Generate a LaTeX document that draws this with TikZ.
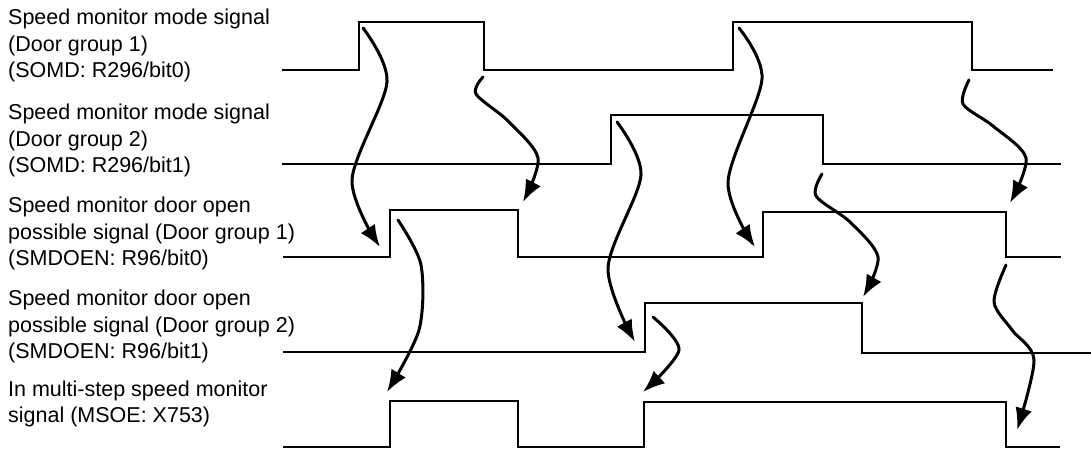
\documentclass[tikz,border=0pt]{standalone}
\usepackage{fontspec}
\setmainfont{Liberation Sans}
\usetikzlibrary{arrows.meta,calc}

\tikzset{
  sig/.style={line width=2.1pt},
  cause/.style={line width=3pt, line cap=round, -{Latex[length=22pt,width=17pt]}},
  lbl/.style={anchor=north west, align=left, inner sep=0pt,
    font=\fontsize{21.5}{26.6}\selectfont}
}

\begin{document}
\begin{tikzpicture}[x=1pt,y=-1pt]
\useasboundingbox (0,0) rectangle (1091,452);

\node[lbl] (somd1) at (8,8.8) {Speed monitor mode signal\\(Door group 1)\\(SOMD: R296/bit0)};
\node[lbl] (somd2) at (8,103.8) {Speed monitor mode signal\\(Door group 2)\\(SOMD: R296/bit1)};
\node[lbl] (smdoen1) at (8,196.8) {Speed monitor door open\\possible signal (Door group 1)\\(SMDOEN: R96/bit0)};
\node[lbl] (smdoen2) at (8,289.8) {Speed monitor door open\\possible signal (Door group 2)\\(SMDOEN: R96/bit1)};
\node[lbl] (msoe) at (8,380.5) {In multi-step speed monitor\\signal (MSOE: X753)};

% signals
\draw[sig] (282,70) -- (359,70) -- (359,22) -- (484,22) -- (484,70) -- (733,70) -- (733,22) -- (972,22) -- (972,70) -- (1053,70);
\draw[sig] (282,164) -- (611,164) -- (611,115) -- (823,115) -- (823,164) -- (1061,164);
\draw[sig] (283,257) -- (390,257) -- (390,210) -- (518,210) -- (518,257) -- (763,257) -- (763,212) -- (1006,212) -- (1006,257) -- (1061,257);
\draw[sig] (283,352) -- (645,352) -- (645,303) -- (862,303) -- (862,353) -- (1091,353);
\draw[sig] (283,447) -- (390,447) -- (390,401) -- (518,401) -- (518,447) -- (644,447) -- (644,402) -- (1006,402) -- (1006,447) -- (1060,447);

% start and end of the arrows
\coordinate (a0) at (363,28);   \coordinate (a1) at (380,247);
\coordinate (b0) at (483,77);   \coordinate (b1) at (523,202);
\coordinate (c0) at (398,220);  \coordinate (c1) at (387,392);
\coordinate (d0) at (617,122);  \coordinate (d1) at (635,342);
\coordinate (e0) at (653,317);  \coordinate (e1) at (643,392);
\coordinate (f0) at (739,28);   \coordinate (f1) at (755,247);
\coordinate (g0) at (822,174);  \coordinate (g1) at (863,297);
\coordinate (h0) at (969,80);   \coordinate (h1) at (1010,203);
\coordinate (k0) at (1006,265); \coordinate (k1) at (1017,430);

\draw[cause] plot[smooth] coordinates {(a0) (387,82) (352,180) (a1)};
\draw[cause] plot[smooth] coordinates {(b0) (476,94) (508,121) (538,158) (b1)};
\draw[cause] plot[smooth] coordinates {(c0) (421,265) (419,330) (c1)};
\draw[cause] plot[smooth] coordinates {(d0) (641,175) (608,268) (d1)};
\draw[cause] plot[smooth] coordinates {(e0) (679,350) (e1)};
\draw[cause] plot[smooth] coordinates {(f0) (762,79) (728,182) (f1)};
\draw[cause] plot[smooth] coordinates {(g0) (816,196) (850,222) (878,257) (g1)};
\draw[cause] plot[smooth] coordinates {(h0) (963,104) (993,126) (1026,158) (h1)};
\draw[cause] plot[smooth] coordinates {(k0) (994,302) (1012,330) (1034,360) (k1)};
\end{tikzpicture}
\end{document}
